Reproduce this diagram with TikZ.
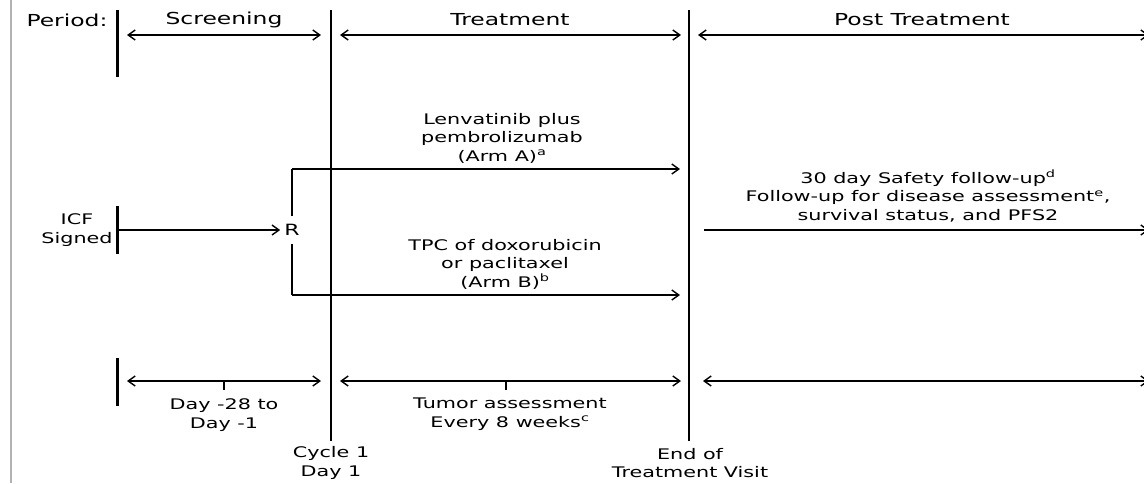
\documentclass[tikz,border=0pt]{standalone}
\usepackage{fontspec}
\setmainfont{DejaVu Sans}[FakeStretch=1.42]
\usetikzlibrary{arrows.meta}
\begin{document}
\begin{tikzpicture}[x=1pt,y=-1pt,
  hdr/.style={font=\fontsize{16.5}{19}\selectfont, inner sep=0pt, text=black},
  txt/.style={font=\fontsize{14.6}{18.5}\selectfont, align=center, inner sep=0pt, text=black},
  tick/.style={line width=3pt},
  divider/.style={line width=2pt},
  barb/.tip={Straight Barb[length=7pt,width=10pt,line width=1.4pt]},
  arr/.style={line width=1.8pt, -barb},
  darr/.style={line width=1.8pt, barb-barb},
  thinarr/.style={line width=1.3pt, -barb},
]
\useasboundingbox (0,0) rectangle (1144,483);
\fill[white] (0,0) rectangle (1144,483);
% left gray rule
\coordinate (g1) at (11,0); \coordinate (g2) at (11,483);
\draw[black!30, line width=2pt] (g1) -- (g2);

% header
\node[hdr] (period) at (67,20) {Period:};
\node[hdr] (hscr) at (224,20) {Screening};
\node[hdr] (htrt) at (510,20) {Treatment};
\node[hdr] (hpost) at (922,20) {Post Treatment};

\coordinate (b1t) at (117,10); \coordinate (b1b) at (117,77);
\draw[tick] (b1t) -- (b1b);
\coordinate (d1t) at (331,10); \coordinate (d1b) at (331,441);
\coordinate (d2t) at (689,10); \coordinate (d2b) at (689,441);
\draw[divider] (d1t) -- (d1b);
\draw[divider] (d2t) -- (d2b);

\coordinate (p1a) at (127,35); \coordinate (p1b) at (321,35);
\coordinate (p2a) at (340,35); \coordinate (p2b) at (681,35);
\coordinate (p3a) at (698,35); \coordinate (p3b) at (1149,35);
\draw[darr] (p1a) -- (p1b);
\draw[darr] (p2a) -- (p2b);
\draw[darr] (p3a) -- (p3b);

% ICF and randomisation
\node[txt] (icf) at (77,230) {ICF\\Signed};
\coordinate (b2t) at (117,206); \coordinate (b2b) at (117,254);
\draw[tick] (b2t) -- (b2b);
\node[hdr, font=\fontsize{15.5}{18}\selectfont, inner xsep=4pt, inner ysep=8pt] (R) at (292,230) {R};
\coordinate (icfs) at (118,230);
\draw[thinarr] (icfs) -- (R.west |- icfs);

\coordinate (ra) at (292,169); \coordinate (raE) at (680,169);
\coordinate (rb) at (292,295); \coordinate (rbE) at (680,295);
\draw[line width=1.8pt] (R.north) -- (ra);
\draw[arr] (ra) -- (raE);
\draw[line width=1.8pt] (R.south) -- (rb);
\draw[arr] (rb) -- (rbE);

\node[txt] (armA) at (502,138) {Lenvatinib plus\\pembrolizumab\\(Arm A)\textsuperscript{a}};
\node[txt] (armB) at (505,264) {TPC of doxorubicin\\or paclitaxel\\(Arm B)\textsuperscript{b}};

\node[txt] (post) at (928,196) {30 day Safety follow-up\textsuperscript{d}\\Follow-up for disease assessment\textsuperscript{e},\\survival status, and PFS2};
\coordinate (pa) at (704,230); \coordinate (pb) at (1149,230);
\draw[arr, line width=1.5pt] (pa) -- (pb);

% bottom timeline
\coordinate (b3t) at (117,358); \coordinate (b3b) at (117,406);
\draw[tick] (b3t) -- (b3b);
\coordinate (q1a) at (127,381); \coordinate (q1b) at (321,381);
\coordinate (q2a) at (340,381); \coordinate (q2b) at (681,381);
\coordinate (q3a) at (703,381); \coordinate (q3b) at (1149,381);
\draw[darr, line width=1.5pt] (q1a) -- (q1b);
\draw[darr, line width=1.5pt] (q2a) -- (q2b);
\draw[darr, line width=1.5pt] (q3a) -- (q3b);
\coordinate (t1a) at (224,381); \coordinate (t1b) at (224,390);
\coordinate (t2a) at (506,381); \coordinate (t2b) at (506,390);
\draw[line width=2.5pt] (t1a) -- (t1b);
\draw[line width=2.5pt] (t2a) -- (t2b);

\node[txt] (scrdays) at (224,415) {Day -28 to\\Day -1};
\node[txt] (tumor) at (510,414) {Tumor assessment\\Every 8 weeks\textsuperscript{c}};
\node[txt] (cycle) at (331,463) {Cycle 1\\Day 1};
\node[txt] (eot) at (690,463) {End of\\Treatment Visit};
\end{tikzpicture}
\end{document}
